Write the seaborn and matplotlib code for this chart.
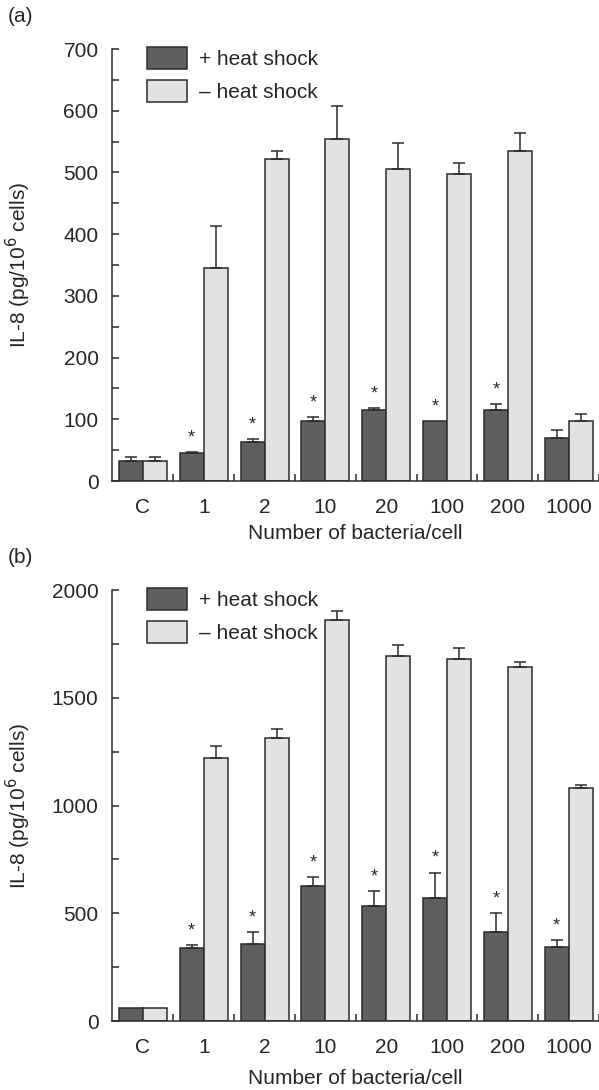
import numpy as np
import pandas as pd
import matplotlib
matplotlib.use("Agg")
import matplotlib.pyplot as plt
from matplotlib.ticker import MultipleLocator
import seaborn as sns

sns.set_style("white")
plt.rcParams['font.family'] = ['Liberation Sans', 'DejaVu Sans']

categories = ["C", "1", "2", "10", "20", "100", "200", "1000"]
groups = ["+ heat shock", "\u2013 heat shock"]

# panel (a)
plus_a = [33, 45, 64, 98, 115, 97, 115, 70]
plus_a_err = [6, 2, 4, 6, 4, 0, 9, 12]
minus_a = [33, 345, 522, 554, 506, 497, 534, 98]
minus_a_err = [6, 68, 13, 53, 42, 18, 30, 10]
stars_a = [0, 1, 1, 1, 1, 1, 1, 0]

# panel (b)
plus_b = [60, 341, 356, 628, 535, 573, 414, 343]
plus_b_err = [0, 13, 59, 40, 69, 116, 87, 34]
minus_b = [60, 1222, 1311, 1860, 1696, 1678, 1643, 1079]
minus_b_err = [0, 52, 46, 42, 50, 51, 21, 16]
stars_b = [0, 1, 1, 1, 1, 1, 1, 1]

dark = "#5f5f61"
light = "#e1e2e4"
ink = "#2b2b2b"


def panel(ax, plus, plus_err, minus, minus_err, stars, ymax, major, minor, tag, xpad):
    df = pd.DataFrame({
        "cat": categories * 2,
        "grp": [groups[0]] * len(categories) + [groups[1]] * len(categories),
        "val": plus + minus,
    })
    sns.barplot(data=df, x="cat", y="val", hue="grp", order=categories,
                hue_order=groups, palette=[dark, light], width=0.79,
                edgecolor=ink, linewidth=1.1, errorbar=None, ax=ax)
    for cont, errs in zip(ax.containers, [plus_err, minus_err]):
        for bar, e in zip(cont, errs):
            if e <= 0:
                continue
            xc = bar.get_x() + bar.get_width() / 2
            ax.errorbar(xc, bar.get_height(), yerr=[[0], [e]], fmt="none",
                        ecolor=ink, elinewidth=1.1, capsize=4, capthick=1.1,
                        zorder=1)
    for bar, e, s in zip(ax.containers[0], plus_err, stars):
        if s:
            xc = bar.get_x() + bar.get_width() / 2
            ax.annotate("*", (xc, bar.get_height() + e), xytext=(0, 4),
                        textcoords="offset points", ha="center", va="bottom",
                        fontsize=13, color=ink)
    ax.set_xlim(-0.5, 7.5)
    ax.set_ylim(0, ymax)
    ax.yaxis.set_major_locator(MultipleLocator(major))
    ax.yaxis.set_minor_locator(MultipleLocator(minor))
    ax.set_xticks(np.arange(len(categories)))
    ax.set_xticklabels(categories)
    ax.set_xticks(np.arange(len(categories)) + 0.5, minor=True)
    sns.despine(ax=ax)
    for sp in ["left", "bottom"]:
        ax.spines[sp].set_color(ink)
        ax.spines[sp].set_linewidth(1.1)
    ax.tick_params(axis="y", which="both", direction="in", length=5,
                   width=1.1, color=ink, labelsize=15, pad=10, left=True)
    ax.tick_params(axis="x", which="major", length=0, labelsize=15, pad=12)
    ax.tick_params(axis="x", which="minor", direction="in", length=5,
                   width=1.1, color=ink, bottom=True)
    ax.set_xlabel("Number of bacteria/cell", fontsize=15, labelpad=xpad)
    ax.set_ylabel("IL-8 (pg/10$^6$ cells)", fontsize=15)
    ax.yaxis.set_label_coords(-0.163, 0.5)
    h, l = ax.get_legend_handles_labels()
    ax.legend(h, l, loc="upper left", bbox_to_anchor=(0.071, 1.005),
              frameon=False, borderaxespad=0, borderpad=0, fontsize=15,
              handlelength=1.9, handleheight=1.25, handletextpad=0.6,
              labelspacing=0.55)
    ax.text(-0.215, 1.075, tag, transform=ax.transAxes, fontsize=15,
            ha="left", va="center")


fig = plt.figure(figsize=(5.99, 10.9), dpi=100)
ax_a = fig.add_axes([0.1878, 0.5587, 0.8122, 0.3963])
ax_b = fig.add_axes([0.1878, 0.0633, 0.8122, 0.3954])

panel(ax_a, plus_a, plus_a_err, minus_a, minus_a_err, stars_a, 700, 100, 50, "(a)", 5)
panel(ax_b, plus_b, plus_b_err, minus_b, minus_b_err, stars_b, 2000, 500, 250, "(b)", 9)

fig.savefig("out.png", dpi=100)
